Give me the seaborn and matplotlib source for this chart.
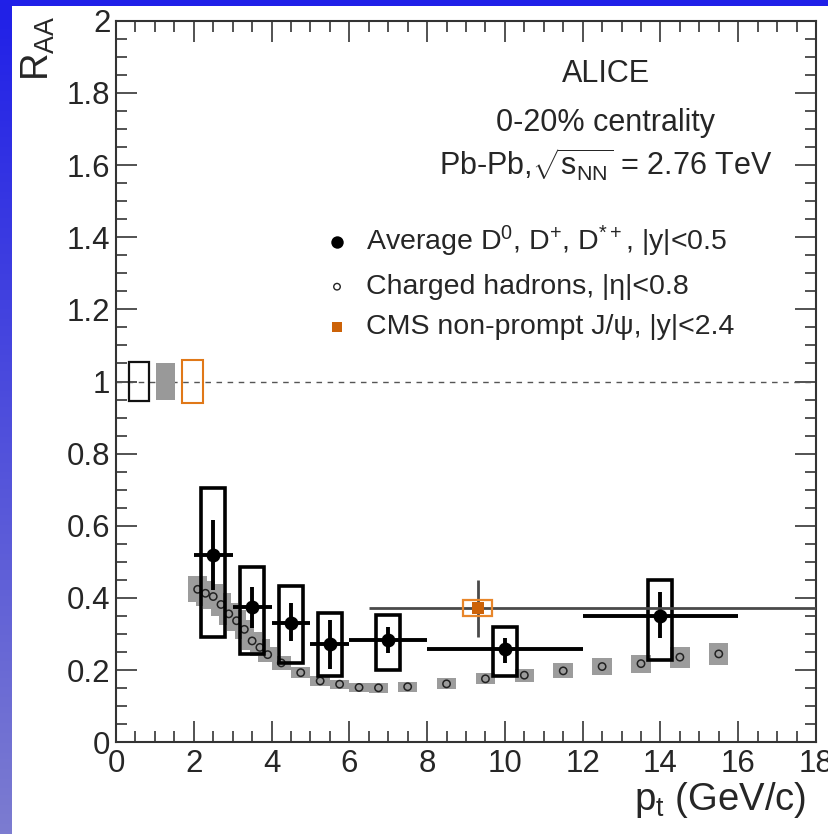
import numpy as np
import pandas as pd
import matplotlib
matplotlib.use("Agg")
import matplotlib.pyplot as plt
import seaborn as sns
from matplotlib.patches import Rectangle
from matplotlib.ticker import MultipleLocator, FixedLocator

# ---------------- data ----------------
d_pt = [2.5, 3.5, 4.5, 5.5, 7.0, 10.0, 14.0]
d_bin_lo = [2, 3, 4, 5, 6, 8, 12]
d_bin_hi = [3, 4, 5, 6, 8, 12, 16]
d_raa = [0.518, 0.375, 0.332, 0.273, 0.283, 0.258, 0.351]
d_stat_hi = [0.616, 0.431, 0.387, 0.340, 0.320, 0.288, 0.416]
d_stat_lo = [0.423, 0.317, 0.280, 0.202, 0.247, 0.221, 0.288]
d_sys_hi = [0.706, 0.487, 0.434, 0.357, 0.354, 0.320, 0.450]
d_sys_lo = [0.291, 0.244, 0.220, 0.185, 0.200, 0.183, 0.229]

h_pt = [2.1, 2.3, 2.5, 2.7, 2.9, 3.1, 3.3, 3.5, 3.7, 3.9, 4.25, 4.75, 5.25,
        5.75, 6.25, 6.75, 7.5, 8.5, 9.5, 10.5, 11.5, 12.5, 13.5, 14.5, 15.5]
h_raa = [0.424, 0.413, 0.404, 0.382, 0.356, 0.337, 0.313, 0.281, 0.263, 0.243,
         0.220, 0.193, 0.170, 0.161, 0.152, 0.151, 0.154, 0.162, 0.176, 0.186,
         0.198, 0.210, 0.218, 0.236, 0.245]
h_sys = [0.036, 0.035, 0.034, 0.032, 0.030, 0.029, 0.027, 0.024, 0.023, 0.021,
         0.019, 0.016, 0.014, 0.013, 0.013, 0.013, 0.014, 0.015, 0.015, 0.018,
         0.021, 0.024, 0.025, 0.029, 0.031]

cms_pt = [9.3]
cms_raa = [0.372]
cms_bin_lo = [6.5]
cms_bin_hi = [30.0]
cms_stat_lo = [0.293]
cms_stat_hi = [0.450]
cms_sys_lo = [0.350]
cms_sys_hi = [0.394]

norm_unc = [0.055, 0.050, 0.060]          # D, hadrons, CMS normalisation
norm_colors = ["#111111", "#999999", "#e07818"]

x_ticks = [0, 2, 4, 6, 8, 10, 12, 14, 16, 18]
y_ticks = [0, 0.2, 0.4, 0.6, 0.8, 1.0, 1.2, 1.4, 1.6, 1.8, 2.0]
y_tick_labels = ["0", "0.2", "0.4", "0.6", "0.8", "1", "1.2", "1.4", "1.6", "1.8", "2"]

legend_labels = [r"Average D$^{0}$, D$^{+}$, D$^{*+}$, |y|<0.5",
                 "Charged hadrons, |η|<0.8",
                 "CMS non-prompt J/ψ, |y|<2.4"]

# ---------------- style ----------------
sns.set_style("white")
plt.rcParams["font.family"] = ["Liberation Sans", "DejaVu Sans"]
plt.rcParams["mathtext.fontset"] = "custom"
plt.rcParams["mathtext.rm"] = "Liberation Sans"
plt.rcParams["mathtext.it"] = "Liberation Sans:italic"
plt.rcParams["mathtext.bf"] = "Liberation Sans:bold"

W, H = 829, 834
fig = plt.figure(figsize=(W / 100, H / 100), dpi=100, facecolor="#2020e8")

# left gradient strip
gax = fig.add_axes([0, 0, 12 / W, 1])
grad = np.linspace(0, 1, 256).reshape(-1, 1)
top = np.array([32, 32, 232]) / 255
bot = np.array([124, 124, 208]) / 255
img = top[None, None, :] * (1 - grad[:, :, None]) + bot[None, None, :] * grad[:, :, None]
gax.imshow(img, aspect="auto", extent=[0, 1, 0, 1])
gax.set_axis_off()
# white panel
fig.patches.append(Rectangle((12 / W, 0), 1 - 12 / W, 1 - 6 / H,
                             transform=fig.transFigure, facecolor="white",
                             edgecolor="none", zorder=-5))

ax_l, ax_r, ax_t, ax_b = 116, 816, 20.7, 742.3
ax = fig.add_axes([ax_l / W, 1 - ax_b / H, (ax_r - ax_l) / W, (ax_b - ax_t) / H])
ax.set_facecolor("white")
ax.set_xlim(0, 18)
ax.set_ylim(0, 2)

# dashed line at 1
ax.axhline(1.0, color="#555555", lw=1.0, ls=(0, (4, 4)), zorder=1)

# normalisation boxes
norm_x = [0.60, 1.28, 1.97]
for i, (xc, u, c) in enumerate(zip(norm_x, norm_unc, norm_colors)):
    if i == 1:
        ax.add_patch(Rectangle((xc - 0.24, 1 - u), 0.48, 2 * u, facecolor=c,
                               edgecolor="none", zorder=2))
    else:
        ax.add_patch(Rectangle((xc - 0.26, 1 - u), 0.52, 2 * u, facecolor="none",
                               edgecolor=c, lw=1.6 if i == 0 else 1.5, zorder=2))

# hadron systematic boxes
for x, y, s in zip(h_pt, h_raa, h_sys):
    ax.add_patch(Rectangle((x - 0.25, y - s), 0.5, 2 * s, facecolor="#9c9c9c",
                           edgecolor="none", zorder=2))

hdf = pd.DataFrame({"pt": h_pt, "raa": h_raa})
sns.scatterplot(data=hdf, x="pt", y="raa", ax=ax, marker="o", s=28,
                facecolor="none", edgecolor="#222222", linewidth=1.1, zorder=3)

# D meson systematic boxes
for x, lo, hi in zip(d_pt, d_sys_lo, d_sys_hi):
    ax.add_patch(Rectangle((x - 0.31, lo), 0.62, hi - lo, facecolor="none",
                           edgecolor="black", lw=2.6, zorder=4))

ddf = pd.DataFrame({"pt": d_pt, "raa": d_raa})
xerr = [np.array(d_pt) - np.array(d_bin_lo), np.array(d_bin_hi) - np.array(d_pt)]
yerr = [np.array(d_raa) - np.array(d_stat_lo), np.array(d_stat_hi) - np.array(d_raa)]
ax.errorbar(d_pt, d_raa, xerr=xerr, yerr=yerr, fmt="none", ecolor="black",
            elinewidth=2.8, capsize=0, zorder=5)
sns.scatterplot(data=ddf, x="pt", y="raa", ax=ax, marker="o", s=100,
                color="black", edgecolor="black", linewidth=0, zorder=6)

# CMS
cdf = pd.DataFrame({"pt": cms_pt, "raa": cms_raa})
cxerr = [np.array(cms_pt) - np.array(cms_bin_lo), np.array(cms_bin_hi) - np.array(cms_pt)]
cyerr = [np.array(cms_raa) - np.array(cms_stat_lo), np.array(cms_stat_hi) - np.array(cms_raa)]
ax.errorbar(cms_pt, cms_raa, xerr=cxerr, yerr=cyerr, fmt="none", ecolor="#4a4a4a",
            elinewidth=2.0, capsize=0, zorder=5)
for x, lo, hi in zip(cms_pt, cms_sys_lo, cms_sys_hi):
    ax.add_patch(Rectangle((x - 0.38, lo), 0.76, hi - lo, facecolor="none",
                           edgecolor="#e8862a", lw=1.6, zorder=6))
sns.scatterplot(data=cdf, x="pt", y="raa", ax=ax, marker="s", s=70,
                color="#cc6208", edgecolor="#cc6208", linewidth=0, zorder=7)

# axes styling
for sp in ax.spines.values():
    sp.set_visible(True)
    sp.set_color("#333333")
    sp.set_linewidth(1.5)
ax.xaxis.set_major_locator(FixedLocator(x_ticks))
ax.xaxis.set_minor_locator(MultipleLocator(0.5))
ax.yaxis.set_major_locator(FixedLocator(y_ticks))
ax.yaxis.set_minor_locator(MultipleLocator(0.05))
ax.set_xticklabels([str(t) for t in x_ticks])
ax.set_yticklabels(y_tick_labels)
ax.tick_params(which="both", direction="in", top=True, right=True,
               bottom=True, left=True, color="#444444", width=1.3)
ax.tick_params(which="major", length=15, labelsize=22.5, pad=4)
ax.tick_params(which="minor", length=8)
ax.tick_params(axis="x", which="major", pad=5)
ax.set_xlabel("")
ax.set_ylabel("")

# axis titles
fig.text(806 / W, 1 - 810 / H, r"p$_{\mathrm{t}}$ (GeV/c)", ha="right",
         va="baseline", fontsize=27.5)
fig.text(38 / W, 1 - 15 / H, r"R$_{\mathrm{AA}}$", rotation=90, ha="center",
         va="top", fontsize=27.5)

# header text
fig.text(606 / W, 1 - 74 / H, "ALICE", ha="center", va="center", fontsize=22)
fig.text(606 / W, 1 - 123 / H, "0-20% centrality", ha="center", va="center", fontsize=22)
fig.text(606 / W, 1 - 165 / H, r"Pb-Pb,$\sqrt{\mathrm{s}_{\mathrm{NN}}}$ = 2.76 TeV",
         ha="center", va="center", fontsize=22)

# legend
leg_y = [241.7, 286.7, 326.7]
leg_mx = 337
leg_tx = 366


def to_ax(px, py):
    return (px - ax_l) / (ax_r - ax_l), (ax_b - py) / (ax_b - ax_t)


mk = [dict(marker="o", s=80, color="black", lw=0),
      dict(marker="o", s=22, facecolor="none", edgecolor="#222222", lw=1.0),
      dict(marker="s", s=60, color="#cc6208", lw=0)]
for py, lab, kw in zip(leg_y, legend_labels, mk):
    mx, my = to_ax(leg_mx, py)
    ax.scatter([mx], [my], transform=ax.transAxes, clip_on=False, zorder=8, **kw)
    tx, ty = to_ax(leg_tx, py)
    ax.text(tx, ty, lab, transform=ax.transAxes, ha="left", va="center", fontsize=20.5)

fig.savefig("out.png", dpi=100, facecolor=fig.get_facecolor())
